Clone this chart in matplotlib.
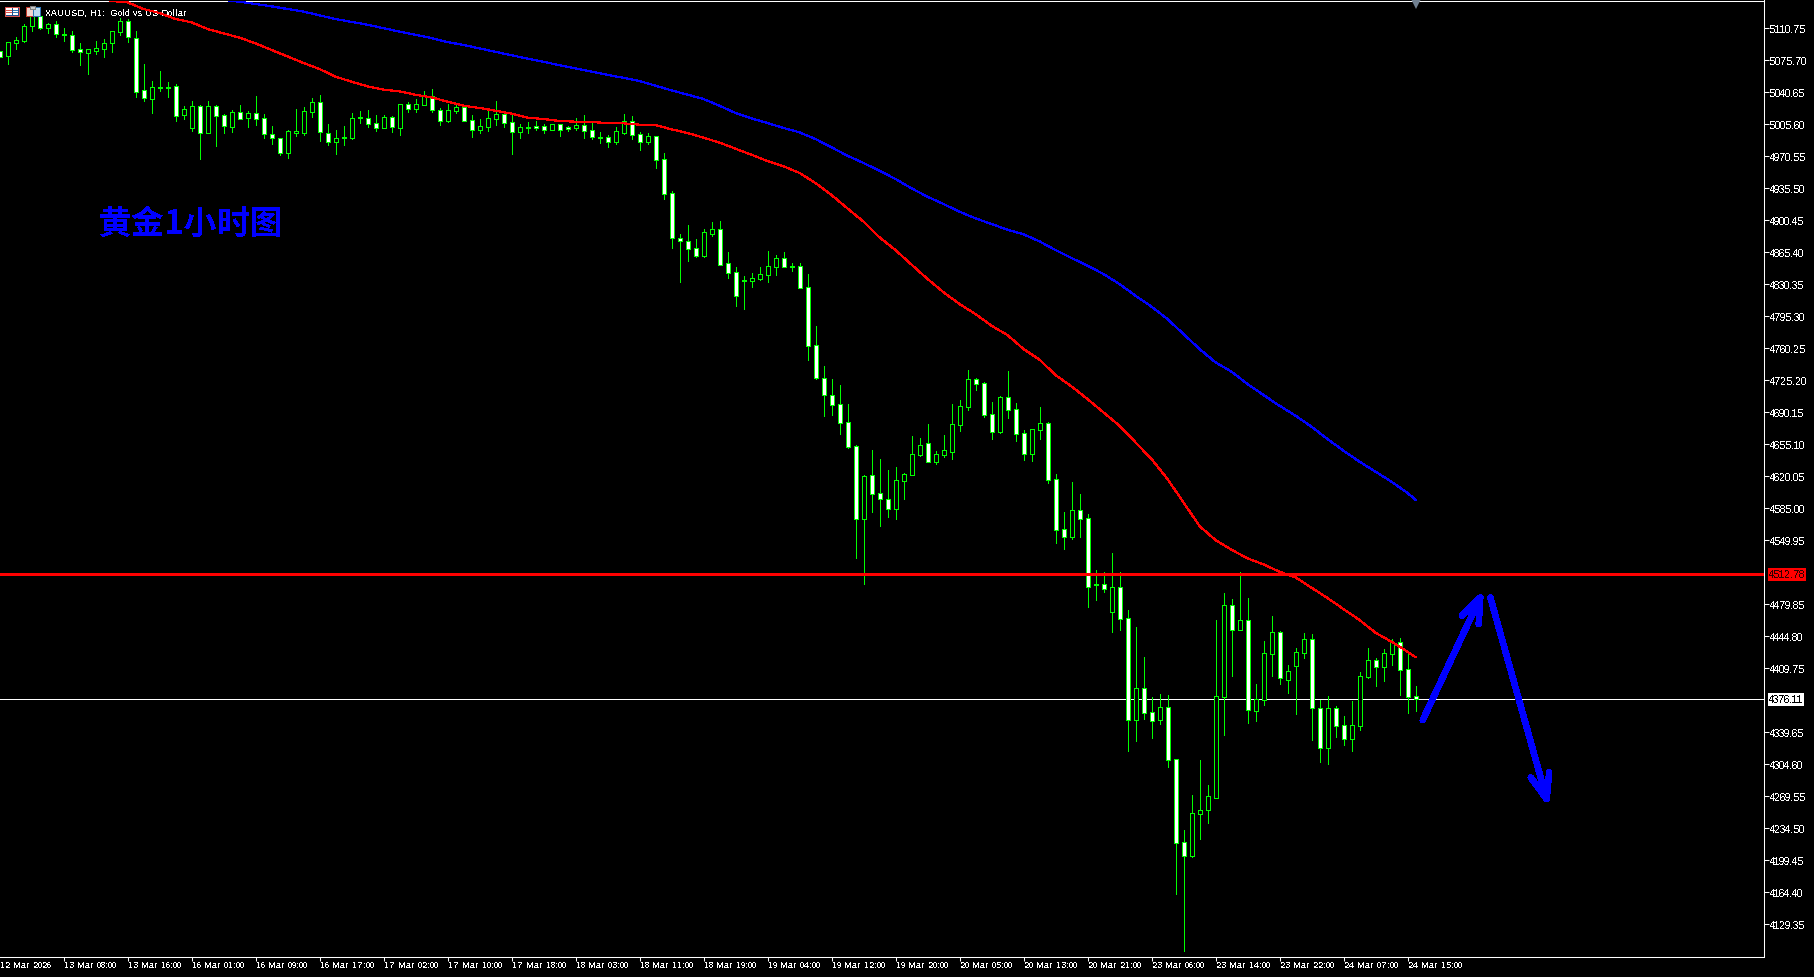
import matplotlib
matplotlib.use("Agg")
import matplotlib.pyplot as plt
from matplotlib.patches import Rectangle
from matplotlib.transforms import blended_transform_factory

# hourly XAUUSD candles
opens = [5085.5,5080.8,5095.0,5096.8,5113.6,5123.9,5111.4,5115.1,5104.1,5103.0,
 5087.7,5084.1,5086.2,5088.4,5095.0,5106.3,5118.4,5099.8,5042.8,5033.7,
 5046.1,5046.1,5047.2,5016.1,5001.9,5025.3,4996.4,5025.3,5015.4,5003.0,
 5018.7,5012.1,5017.6,5012.1,4994.6,4990.2,4974.5,4996.4,4996.4,5019.4,
 5029.7,4995.7,4986.6,4991.3,4991.0,5012.1,5012.1,5006.6,5001.9,5013.2,
 5001.9,5027.5,5022.0,5027.1,5036.9,5020.9,5009.6,5020.5,5024.2,5009.9,
 4999.7,5003.0,5011.4,5016.5,5007.8,4997.5,5002.6,5003.4,5003.4,4999.7,
 5005.6,5002.3,5001.9,5004.5,4999.0,4992.1,4991.3,4986.2,4996.1,5008.8,
 4994.6,4986.6,4992.4,4967.2,4930.0,4880.7,4878.1,4869.8,4861.7,4885.8,
 4890.5,4853.3,4843.5,4834.7,4834.3,4836.5,4840.9,4849.7,4858.8,4850.0,
 4850.0,4827.0,4763.5,4727.4,4708.7,4698.9,4679.2,4652.9,4573.6,4621.1,
 4601.4,4595.6,4584.6,4615.3,4621.8,4643.7,4656.2,4636.1,4643.7,4647.0,
 4676.6,4696.3,4726.2,4721.9,4687.9,4668.6,4706.5,4693.4,4667.1,4644.8,
 4671.1,4678.1,4616.7,4562.0,4553.6,4582.8,4574.0,4501.7,4501.7,4471.8,
 4498.4,4464.5,4353.5,4387.8,4361.5,4353.5,4367.0,4310.0,4219.1,4204.5,
 4250.5,4254.9,4268.1,4378.7,4478.7,4452.1,4462.3,4363.4,4375.4,4425.8,
 4449.2,4397.3,4412.6,4426.9,4441.5,4365.9,4322.8,4365.9,4347.3,4332.7,
 4346.9,4400.6,4418.5,4411.6,4425.8,4438.2,4408.6,4379.0]
highs = [5086.2,5095.4,5100.8,5115.5,5126.8,5124.6,5116.6,5118.4,5110.7,5107.4,
 5094.6,5087.7,5096.8,5099.0,5107.4,5122.0,5120.9,5107.8,5071.6,5053.0,
 5064.0,5051.6,5049.7,5025.3,5031.1,5026.4,5031.1,5026.4,5016.5,5020.9,
 5026.7,5019.8,5036.6,5016.5,5003.7,4991.0,4999.4,5022.4,5024.5,5034.4,
 5037.7,5005.9,4999.4,5003.7,5017.6,5020.2,5021.3,5015.8,5015.4,5015.1,
 5027.5,5030.0,5033.3,5042.1,5044.3,5023.1,5027.8,5028.6,5025.3,5015.8,
 5011.4,5021.6,5031.1,5018.7,5015.8,5005.9,5008.5,5009.6,5005.9,5005.6,
 5005.9,5003.4,5012.5,5015.8,5007.0,4997.2,4993.9,5002.6,5016.9,5014.7,
 4997.2,4996.1,4992.4,4974.2,4932.5,4885.4,4895.3,4880.0,4890.9,4898.6,
 4899.7,4865.7,4849.3,4839.4,4842.7,4849.3,4866.8,4862.4,4865.7,4853.7,
 4853.7,4841.6,4784.7,4740.9,4726.6,4720.0,4699.2,4654.3,4621.5,4648.9,
 4639.0,4626.9,4630.2,4623.7,4664.2,4662.0,4677.3,4647.8,4665.3,4699.2,
 4703.6,4736.5,4727.3,4723.3,4701.4,4707.6,4735.4,4700.3,4670.8,4671.9,
 4695.9,4679.5,4622.6,4580.9,4613.8,4600.7,4578.8,4517.4,4515.2,4536.0,
 4514.9,4473.6,4455.0,4422.1,4378.3,4381.6,4380.5,4310.0,4232.7,4271.0,
 4309.3,4281.9,4462.7,4492.2,4485.7,4514.9,4486.8,4392.6,4439.7,4467.0,
 4450.6,4413.4,4432.0,4448.4,4447.3,4375.0,4379.4,4368.5,4357.5,4373.9,
 4405.7,4432.0,4421.0,4430.9,4441.8,4442.9,4425.4,4390.4]
lows = [5078.2,5071.6,5088.1,5096.1,5108.2,5110.0,5105.6,5101.6,5096.8,5085.2,
 5070.5,5060.7,5082.6,5079.3,5084.4,5103.8,5096.1,5035.5,5031.5,5018.0,
 5042.1,5035.5,5009.2,5011.4,4998.3,4967.6,4996.1,4981.8,4996.1,4997.2,
 5011.4,5002.6,5004.8,4990.6,4983.6,4972.0,4968.7,4992.8,4993.9,5013.6,
 4987.3,4982.9,4973.1,4982.9,4989.5,5007.0,5002.6,4998.3,5001.5,4997.2,
 4993.9,5019.1,5019.1,5026.4,5019.1,5004.8,5008.1,5018.3,5009.2,4991.7,
 4996.1,4998.3,5004.8,5002.6,4973.1,4990.6,4996.1,4999.4,4996.1,4999.7,
 4992.8,4998.3,4999.4,4990.6,4989.5,4985.1,4980.7,4984.0,4995.0,4989.5,
 4977.4,4984.0,4957.7,4923.8,4870.1,4832.9,4855.9,4860.3,4860.3,4883.2,
 4851.5,4837.2,4806.6,4803.3,4827.4,4835.1,4832.9,4840.5,4849.3,4845.0,
 4826.3,4747.8,4726.6,4686.1,4687.2,4666.4,4651.0,4530.6,4502.1,4580.9,
 4565.6,4575.5,4573.3,4595.2,4621.5,4642.3,4635.7,4633.5,4641.2,4639.0,
 4669.7,4692.7,4714.6,4685.0,4660.9,4667.5,4683.9,4658.7,4637.9,4636.8,
 4660.9,4612.7,4547.0,4540.4,4551.4,4553.6,4476.9,4484.6,4493.3,4449.5,
 4451.7,4319.2,4330.1,4354.2,4333.4,4348.7,4301.6,4162.5,4100.1,4203.1,
 4222.8,4240.3,4268.1,4336.7,4401.3,4452.1,4349.8,4352.0,4369.6,4401.3,
 4392.6,4382.7,4359.7,4421.0,4331.2,4307.1,4304.9,4334.5,4325.7,4319.2,
 4342.2,4399.1,4390.4,4395.8,4413.4,4380.5,4360.8,4362.9]
closes = [5078.9,5095.4,5097.6,5112.9,5124.6,5111.1,5115.1,5104.1,5103.0,5087.3,
 5085.2,5087.7,5088.8,5094.3,5107.4,5118.4,5101.6,5041.3,5034.4,5046.1,
 5045.4,5045.7,5015.1,5022.0,5025.3,4996.4,5025.3,5015.1,5003.4,5018.7,
 5011.8,5017.6,5011.8,4995.3,4991.0,4974.2,4997.9,4997.9,5019.8,5029.7,
 4996.8,4986.6,4990.2,4990.2,5012.1,5013.2,5006.3,5001.9,5013.2,5003.0,
 5027.5,5022.0,5027.5,5036.9,5020.9,5009.6,5020.9,5024.2,5009.6,4999.7,
 5003.4,5012.1,5016.5,5007.4,4997.5,5002.3,5001.9,5001.9,4999.7,5005.6,
 4999.7,5000.1,5004.5,4998.6,4992.1,4991.0,4986.6,4997.9,5008.8,4994.2,
 4986.6,4992.4,4966.8,4929.6,4881.4,4878.1,4869.4,4861.7,4887.3,4890.5,
 4851.8,4843.1,4817.9,4833.6,4836.9,4841.3,4850.0,4858.8,4849.7,4849.3,
 4826.7,4763.1,4727.4,4709.5,4698.5,4678.8,4652.5,4573.6,4620.0,4601.0,
 4595.6,4584.6,4615.6,4622.2,4644.1,4654.0,4636.1,4644.1,4648.5,4677.0,
 4696.7,4726.2,4721.5,4687.6,4668.9,4706.5,4693.0,4666.7,4644.8,4671.5,
 4678.1,4616.4,4561.6,4553.9,4582.8,4573.6,4499.2,4500.6,4497.0,4498.4,
 4464.1,4353.5,4387.8,4361.2,4352.4,4367.0,4309.7,4218.8,4204.5,4250.9,
 4254.2,4269.5,4379.0,4478.7,4452.1,4462.3,4364.4,4375.8,4426.2,4449.2,
 4398.8,4406.4,4427.2,4441.5,4365.9,4322.8,4365.9,4346.9,4332.7,4347.3,
 4400.9,4418.5,4411.6,4426.2,4438.2,4408.3,4378.7,4375.8]

# moving averages
red_bar = [13,14,16,18,20,22,24,26,28,30,32,34,36,38,40,42,44,46,48,50,52,54,56,58,60,62,64,66,68,70,
 72,74,76,78,80,82,84,86,88,90,92,94,96,98,100,102,104,106,108,110,112,114,116,118,120,122,124,126,128,130,
 132,134,136,138,140,142,144,146,148,150,152,154,156,158,160,162,164,166,168,170,172,174,176,177]
red_ma = [5143.9,5140.6,5139.2,5131.9,5127.5,5120.9,5117.3,5110.0,5105.2,5100.5,5094.3,5087.0,5080.0,5072.7,5066.2,5057.8,5052.3,5047.2,5043.5,5041.7,5038.0,5035.1,
 5030.4,5026.0,5023.5,5020.5,5017.3,5012.9,5011.4,5009.2,5008.5,5008.1,5007.0,5006.7,5005.2,5004.8,5000.1,4996.1,4991.0,4985.5,4978.9,4972.3,4965.4,4959.6,4952.3,4941.3,4928.2,4913.5,
 4899.0,4881.8,4867.9,4851.9,4836.2,4821.6,4808.8,4797.8,4785.0,4774.8,4759.5,4747.8,4731.0,4718.6,4704.7,4690.1,4675.5,4657.3,4639.0,4617.1,4591.5,4565.6,
 4550.3,4539.7,4530.2,4523.6,4515.6,4509.4,4498.1,4486.8,4474.7,4462.7,4448.8,4438.9,4428.0,4422.1]
blue_bar = [27,29,30,34,38,42,46,50,54,56,58,65,72,80,84,86,88,90,92,94,96,98,100,102,104,106,
 108,110,112,114,116,118,120,122,124,126,128,130,132,134,136,138,140,142,144,146,148,150,152,154,156,158,160,162,164,166,168,170,172,174,176,177]
blue_ma = [5143.9,5140.6,5139.9,5134.8,5129.0,5120.9,5114.7,5107.1,5100.1,5095.7,5092.5,5079.4,5066.8,5053.0,5042.8,5038.1,5033.3,5026.0,5018.0,5012.1,5007.0,5001.6,4996.8,4989.5,4980.4,4971.2,
 4963.2,4954.8,4945.7,4935.5,4926.3,4918.3,4909.9,4902.6,4896.4,4890.2,4885.1,4877.4,4867.9,4859.2,4850.8,4841.6,4830.7,4817.9,4805.9,4792.3,4775.9,4759.5,4744.9,4734.7,4721.1,4709.1,4697.4,4686.5,4674.4,4660.9,4648.1,4636.1,4625.1,4614.2,4601.8,4594.5]

level_price = 4512.78
last_price = 4376.11

# axis labels
price_ticks = [5110.75,5075.70,5040.65,5005.60,4970.55,4935.50,4900.45,4865.40,4830.35,4795.30,4760.25,4725.20,
 4690.15,4655.10,4620.05,4585.00,4549.95,4479.85,4444.80,4409.75,4339.65,4304.60,4269.55,4234.50,4199.45,4164.40,4129.35]
time_labels = ["12 Mar 2026","13 Mar 08:00","13 Mar 16:00","16 Mar 01:00","16 Mar 09:00","16 Mar 17:00",
 "17 Mar 02:00","17 Mar 10:00","17 Mar 18:00","18 Mar 03:00","18 Mar 11:00","18 Mar 19:00","19 Mar 04:00",
 "19 Mar 12:00","19 Mar 20:00","20 Mar 05:00","20 Mar 13:00","20 Mar 21:00","23 Mar 06:00","23 Mar 14:00",
 "23 Mar 22:00","24 Mar 07:00","24 Mar 15:00"]

# hand drawn forecast arrows (bar, price)
up_bar = [177.9,185.1]
up_price = [4353.1,4487.5]
up_head_bar = [182.8,185.1,184.9]
up_head_price = [4467.4,4487.5,4458.3]
down_bar = [186.35,193.4]
down_price = [4487.5,4266.6]
down_head_bar = [191.4,193.4,193.7]
down_head_price = [4290.3,4266.6,4295.8]

plt.rcParams['font.family'] = ['Liberation Sans', 'DejaVu Sans']
plt.rcParams['text.antialiased'] = False
plt.rcParams['text.hinting_factor'] = 1
SIZE_X = 6.8
SIZE_Y = 7.0
GREEN = '#00ff00'
BLUE = '#0000ff'
RED = '#ff0000'

fig = plt.figure(figsize=(18.14, 9.78), dpi=100, facecolor='black')
ax = fig.add_axes([0, (978-957.5)/978, 1764/1814, (957.5-1.5)/978], facecolor='black')
ax.set_xlim(0.0625, 220.56)
ax.set_ylim(4094.2, 5141.2)

# candles
for i in range(len(opens)):
    ax.vlines(i, lows[i], highs[i], color=GREEN, lw=0.72, antialiased=False, snap=True, zorder=3)
    top = max(opens[i], closes[i])
    bot = min(opens[i], closes[i])
    fill = 'white' if closes[i] < opens[i] else 'black'
    ax.add_patch(Rectangle((i-0.25, bot), 0.5, top-bot, facecolor=fill, edgecolor=GREEN,
                           lw=0.72, antialiased=False, snap=True, zorder=4))

# text goes under the lines
ax.text(45/8, 5141.2-(11.5)/0.913, "XAUUSD, H1:  Gold vs US Dollar", color='white', fontsize=SIZE_X,
        va='center', ha='left', zorder=2)
ax.text(99/8, 4897, "黄金1小时图", color=BLUE, fontsize=23.6, weight='bold', va='center', ha='left',
        family=['Noto Sans CJK SC', 'DejaVu Sans'], zorder=2)

ax.plot(red_bar, red_ma, color=RED, lw=0.85, antialiased=False, zorder=5)
ax.plot(blue_bar, blue_ma, color=BLUE, lw=0.85, antialiased=False, zorder=5)
ax.axhline(level_price, color=RED, lw=2.16, snap=True, zorder=6)
ax.axhline(last_price, color='white', lw=0.72, antialiased=False, zorder=2)

# arrows
for xs, ys, hx, hy in [(up_bar, up_price, up_head_bar, up_head_price),
                       (down_bar, down_price, down_head_bar, down_head_price)]:
    ax.plot(xs, ys, color=BLUE, lw=4.0, solid_capstyle='round', antialiased=False, zorder=7)
    ax.plot(hx, hy, color=BLUE, lw=4.0, solid_capstyle='round', solid_joinstyle='round', antialiased=False, zorder=7)

# period marker on the top edge
ax.plot([177], [5137.5], marker='v', ms=6.5, color='#708090', mew=0, ls='none', clip_on=False, zorder=8)

# frame
for side in ['top', 'right', 'bottom']:
    ax.spines[side].set_color('white')
    ax.spines[side].set_linewidth(0.75)
ax.spines['left'].set_visible(False)

ax.yaxis.tick_right()
ax.set_yticks(price_ticks)
ax.set_yticklabels(["%.2f" % p for p in price_ticks], fontsize=SIZE_Y, color='white')
ax.tick_params(axis='y', colors='white', length=3.3, width=0.75, pad=0.8)
ax.set_xticks(range(8, 8*len(time_labels), 8))
ax.set_xticklabels([])
ax.tick_params(axis='x', colors='white', length=3, width=0.75)
xtrans = blended_transform_factory(ax.transData, ax.transAxes)
for i, lab in enumerate(time_labels):
    ax.annotate(lab, (i*8, 0), xycoords=xtrans, xytext=(0.5, -8.5), textcoords='offset pixels',
                color='white', fontsize=SIZE_X, va='center', ha='left', annotation_clip=False)

# price boxes
ytrans = blended_transform_factory(ax.transAxes, ax.transData)
for price, bg, fg in [(level_price, RED, '#300000'), (last_price, 'white', 'black')]:
    ax.annotate("%.2f" % price, (1, price), xycoords=ytrans, xytext=(5, 0), textcoords='offset pixels',
                color=fg, fontsize=SIZE_Y, va='center', ha='left', annotation_clip=False,
                bbox=dict(boxstyle='square,pad=0.15', fc=bg, ec='none'), zorder=9)

# chart window icons, drawn in pixels from the top left corner
def px_rect(x, y, w, h, fc, ec='none'):
    fig.patches.append(Rectangle((x/1814, 1-(y+h)/978), w/1814, h/978, transform=fig.transFigure,
                                 facecolor=fc, edgecolor=ec, lw=0.72, antialiased=False))

px_rect(4.5, 7.5, 14, 9, '#1f4e8c', '#d9534f')
px_rect(5.5, 8.5, 6, 7, 'white')
px_rect(12.5, 8.5, 5, 7, 'white')
for row in (10.5, 13):
    px_rect(5.5, row, 6, 1, '#d9534f')
    px_rect(12.5, row, 5, 1, '#2f76b5')
px_rect(25.5, 7.5, 7, 9, '#f2d5cf', '#c0392b')
px_rect(33, 7.5, 7, 9, '#bcdcf2', '#2f76b5')
px_rect(30, 6.5, 5, 3, '#c8c8c8', '#808080')

fig.savefig('out.png', dpi=100, facecolor='black')
